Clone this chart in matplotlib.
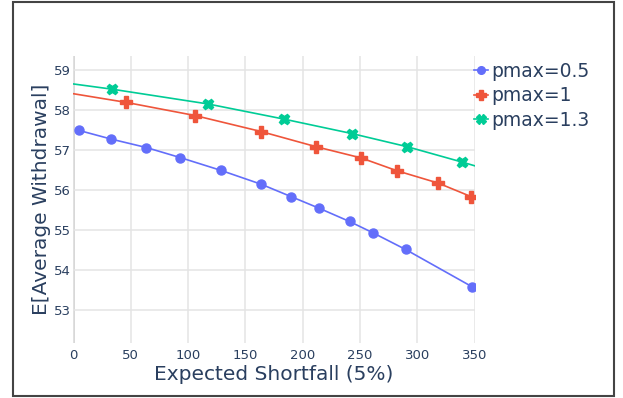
import matplotlib.pyplot as plt
from matplotlib.patches import Rectangle

plt.rcParams["font.family"] = ["DejaVu Sans"]

# expected shortfall vs mean withdrawal, one curve per pmax setting
es_05 = [4.7, 33.2, 63.7, 93.1, 128.6, 164.0, 190.1, 214.5, 240.9, 261.8, 289.8, 347.6]
wd_05 = [57.50, 57.28, 57.07, 56.82, 56.50, 56.15, 55.84, 55.55, 55.22, 54.93, 54.52, 53.59]

es_10 = [46.0, 106.2, 163.8, 211.8, 251.0, 282.2, 318.3, 347.1]
wd_10 = [58.20, 57.87, 57.47, 57.09, 56.81, 56.49, 56.18, 55.84]

es_13 = [33.8, 117.5, 183.9, 242.9, 291.3, 338.6]
wd_13 = [58.53, 58.16, 57.78, 57.42, 57.09, 56.71]

# fitted curves continue past the sampled points to the axis edges
fit_10_x = [-5, 46.0, 106.2, 163.8, 211.8, 251.0, 282.2, 318.3, 347.1, 360]
fit_10_y = [58.44, 58.20, 57.87, 57.47, 57.09, 56.81, 56.49, 56.18, 55.84, 55.68]
fit_13_x = [-5, 33.8, 117.5, 183.9, 242.9, 291.3, 338.6, 360]
fit_13_y = [58.68, 58.53, 58.16, 57.78, 57.42, 57.09, 56.71, 56.53]

labels = ["pmax=0.5", "pmax=1", "pmax=1.3"]
colors = ["#636EFA", "#EF553B", "#00CC96"]
text_color = "#2a3f5f"

fig = plt.figure(figsize=(6.23, 3.98), dpi=100)
ax = fig.add_axes([0.1177, 0.1382, 0.6441, 0.7211])

ax.plot(es_05, wd_05, color=colors[0], lw=1.2, marker="o", ms=6.5,
        mec=colors[0], label=labels[0])
ax.plot(fit_10_x, fit_10_y, color=colors[1], lw=1.2)
ax.plot(es_10, wd_10, ls="none", marker="P", ms=8, color=colors[1], mec=colors[1])
ax.plot(fit_13_x, fit_13_y, color=colors[2], lw=1.2)
ax.plot(es_13, wd_13, ls="none", marker="X", ms=7.5, color=colors[2], mec=colors[2])

# proxies for legend entries (line + marker)
h1, = ax.plot([], [], color=colors[0], lw=1.2, marker="o", ms=5.5)
h2, = ax.plot([], [], color=colors[1], lw=1.2, marker="P", ms=7)
h3, = ax.plot([], [], color=colors[2], lw=1.2, marker="X", ms=6.5)

ax.set_xlim(0, 350)
ax.set_ylim(52.18, 59.36)
ax.set_xticks(range(0, 351, 50))
ax.set_yticks(range(53, 60))

ax.grid(True, color="#e4e4e4", lw=1.1)
ax.axvline(0, color="#d4d4d4", lw=2, zorder=0.5)
ax.set_axisbelow(True)
for s in ax.spines.values():
    s.set_visible(False)
ax.tick_params(length=0, labelsize=9.5, labelcolor=text_color)
ax.tick_params(axis="y", pad=1.5)
ax.tick_params(axis="x", pad=4.5)

ax.set_xlabel("Expected Shortfall (5%)", fontsize=14.5, color=text_color, labelpad=2)
ax.set_ylabel("E[Average Withdrawal]", fontsize=14.5, color=text_color, labelpad=2)

leg = ax.legend([h1, h2, h3], labels, loc="upper left", bbox_to_anchor=(0.985, 1.0),
                frameon=False, fontsize=13.5, handlelength=0.75, handletextpad=0.15,
                labelspacing=0.3, borderaxespad=0.2, borderpad=0.1)
for t in leg.get_texts():
    t.set_color(text_color)

# outer frame around the whole figure
fig.patches.append(Rectangle((12.5 / 623, 2.5 / 398), 601.5 / 623, 394 / 398,
                             transform=fig.transFigure, fill=False,
                             ec="#444444", lw=1.5))

fig.savefig("out.png", dpi=100)
